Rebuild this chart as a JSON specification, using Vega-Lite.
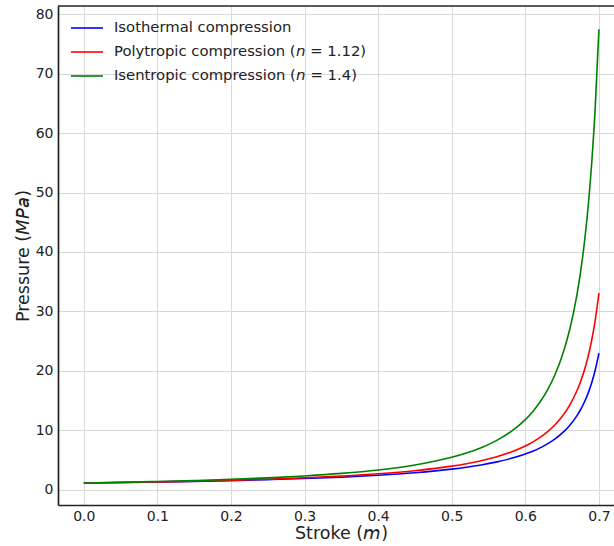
{
  "$schema": "https://vega.github.io/schema/vega-lite/v6.json",
  "width": 556,
  "height": 499,
  "autosize": {"type": "none"},
  "padding": {"left": 58, "top": 6, "right": 0, "bottom": 41},
  "background": "white",
  "config": {
    "view": {"stroke": null},
    "font": "DejaVu Sans",
    "axis": {
      "grid": true,
      "gridColor": "#d9d9d9",
      "gridWidth": 1,
      "ticks": false,
      "domainColor": "#222222",
      "domainWidth": 1.7,
      "labelFont": "DejaVu Sans",
      "labelFontSize": 14,
      "labelColor": "#222222",
      "titleFont": "DejaVu Sans",
      "titleFontSize": 17.5,
      "titleFontWeight": "normal",
      "titleColor": "#222222"
    },
    "legend": {
      "labelFont": "DejaVu Sans",
      "labelFontSize": 14.8,
      "labelColor": "#222222"
    }
  },
  "layer": [
    {
      "data": {
        "values": [
          {"stroke": 0, "iso": 1.100, "poly": 1.100, "isen": 1.100},
          {"stroke": 0.05, "iso": 1.180, "poly": 1.190, "isen": 1.214},
          {"stroke": 0.1, "iso": 1.273, "poly": 1.296, "isen": 1.350},
          {"stroke": 0.15, "iso": 1.382, "poly": 1.420, "isen": 1.514},
          {"stroke": 0.2, "iso": 1.511, "poly": 1.570, "isen": 1.716},
          {"stroke": 0.25, "iso": 1.667, "poly": 1.752, "isen": 1.968},
          {"stroke": 0.3, "iso": 1.858, "poly": 1.979, "isen": 2.292},
          {"stroke": 0.35, "iso": 2.099, "poly": 2.269, "isen": 2.719},
          {"stroke": 0.4, "iso": 2.413, "poly": 2.651, "isen": 3.303},
          {"stroke": 0.45, "iso": 2.836, "poly": 3.177, "isen": 4.141},
          {"stroke": 0.5, "iso": 3.438, "poly": 3.942, "isen": 5.424},
          {"stroke": 0.52, "iso": 3.758, "poly": 4.355, "isen": 6.143},
          {"stroke": 0.54, "iso": 4.143, "poly": 4.858, "isen": 7.042},
          {"stroke": 0.56, "iso": 4.616, "poly": 5.483, "isen": 8.192},
          {"stroke": 0.58, "iso": 5.211, "poly": 6.280, "isen": 9.708},
          {"stroke": 0.6, "iso": 5.982, "poly": 7.330, "isen": 11.776},
          {"stroke": 0.61, "iso": 6.459, "poly": 7.988, "isen": 13.114},
          {"stroke": 0.62, "iso": 7.020, "poly": 8.769, "isen": 14.735},
          {"stroke": 0.63, "iso": 7.687, "poly": 9.708, "isen": 16.732},
          {"stroke": 0.64, "iso": 8.495, "poly": 10.857, "isen": 19.243},
          {"stroke": 0.65, "iso": 9.492, "poly": 12.294, "isen": 22.477},
          {"stroke": 0.66, "iso": 10.754, "poly": 14.138, "isen": 26.770},
          {"stroke": 0.67, "iso": 12.404, "poly": 16.590, "isen": 32.690},
          {"stroke": 0.675, "iso": 13.434, "poly": 18.139, "isen": 36.553},
          {"stroke": 0.68, "iso": 14.651, "poly": 19.989, "isen": 41.271},
          {"stroke": 0.685, "iso": 16.110, "poly": 22.232, "isen": 47.138},
          {"stroke": 0.69, "iso": 17.892, "poly": 25.004, "isen": 54.596},
          {"stroke": 0.695, "iso": 20.117, "poly": 28.512, "isen": 64.335},
          {"stroke": 0.7, "iso": 22.975, "poly": 33.086, "isen": 77.482}
        ]
      },
      "transform": [
        {"fold": ["iso", "poly", "isen"], "as": ["process", "pressure"]}
      ],
      "mark": {"type": "line", "strokeWidth": 1.6, "interpolate": "monotone"},
      "encoding": {
        "x": {
          "field": "stroke",
          "type": "quantitative",
          "scale": {"domain": [-0.035, 0.7205], "nice": false, "zero": false},
          "axis": {
            "values": [0, 0.1, 0.2, 0.3, 0.4, 0.5, 0.6, 0.7],
            "format": ".1f",
            "labelPadding": 4,
            "title": "Stroke (𝘮)",
            "titleX": 283,
            "titlePadding": 1
          }
        },
        "y": {
          "field": "pressure",
          "type": "quantitative",
          "scale": {"domain": [-2.6, 81.4], "nice": false, "zero": false},
          "axis": {
            "values": [0, 10, 20, 30, 40, 50, 60, 70, 80],
            "format": "d",
            "labelPadding": 5,
            "title": "Pressure (𝘔𝘗𝘢)",
            "titlePadding": 3
          }
        },
        "color": {
          "field": "process",
          "type": "nominal",
          "scale": {
            "domain": ["iso", "poly", "isen"],
            "range": ["#0000ff", "#ff0000", "#008000"]
          },
          "legend": {
            "title": null,
            "orient": "none",
            "legendX": 12,
            "legendY": 5,
            "padding": 0,
            "symbolType": "stroke",
            "symbolSize": 1024,
            "symbolStrokeWidth": 1.6,
            "labelOffset": 10,
            "labelLimit": 0,
            "rowPadding": -9.5,
            "labelExpr": "datum.value == 'iso' ? 'Isothermal compression' : datum.value == 'poly' ? 'Polytropic compression (𝘯 = 1.12)' : 'Isentropic compression (𝘯 = 1.4)'"
          }
        }
      }
    },
    {
      "data": {"values": [{}]},
      "mark": {"type": "rule", "color": "#222222", "strokeWidth": 1.7},
      "encoding": {"y": {"datum": 81.4}}
    }
  ]
}
